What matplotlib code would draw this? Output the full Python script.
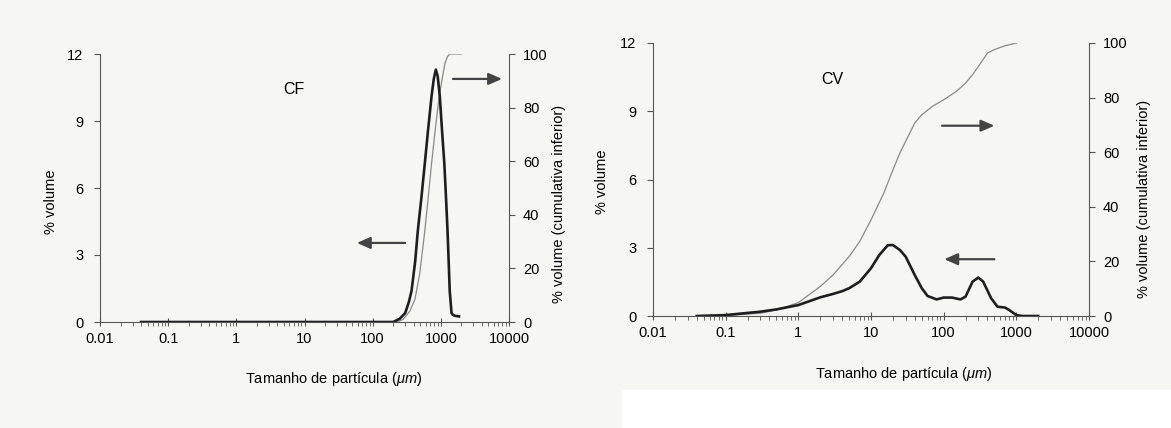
import matplotlib
matplotlib.use("Agg")
import matplotlib.pyplot as plt
import numpy as np
from matplotlib.ticker import FixedLocator, LogLocator, NullFormatter

plt.rcParams.update({
    "font.family": ["Liberation Sans", "DejaVu Sans"],
    "font.size": 10,
    "mathtext.fontset": "custom",
    "mathtext.it": "Liberation Sans:italic",
    "mathtext.rm": "Liberation Sans",
})

# CF - distribuição diferencial (% volume) e cumulativa
cf_size = [0.04, 200, 250, 300, 340, 372, 420, 460, 520, 582, 650, 730, 790, 845, 900, 966,
           1040, 1125, 1190, 1253, 1300, 1350, 1400, 1435, 1500, 1600, 1850]
cf_vol = [0, 0, 0.15, 0.4, 0.9, 1.4, 2.7, 4.1, 5.6, 7.1, 8.6, 10.1, 10.9, 11.3, 11.0, 10.1,
          8.6, 7.1, 5.6, 4.1, 2.8, 1.4, 0.8, 0.4, 0.32, 0.28, 0.25]
cf_cum_size = [0.04, 230, 280, 350, 417, 490, 582, 650, 730, 830, 944, 1050, 1150, 1250, 1350, 1600, 2000]
cf_cum = [0, 0, 1, 4, 8.5, 18, 34, 46, 59, 72, 84, 91, 96.6, 99, 100, 100, 100]

# CV
cv_size = [0.04, 0.1, 0.3, 0.5, 1, 2, 3, 4, 5, 7, 10, 13, 17, 20, 25, 30, 40, 50, 60, 80,
           100, 130, 170, 200, 250, 300, 350, 450, 550, 700, 800, 1000, 1200, 2000]
cv_vol = [0, 0.04, 0.19, 0.29, 0.48, 0.82, 0.97, 1.09, 1.22, 1.51, 2.10, 2.68, 3.11, 3.12, 2.9,
          2.61, 1.80, 1.22, 0.88, 0.73, 0.81, 0.81, 0.73, 0.85, 1.51, 1.69, 1.51, 0.78, 0.41,
          0.37, 0.26, 0.04, 0, 0]
cv_cum_size = [0.04, 0.1, 0.3, 0.5, 1, 2, 3, 5, 7, 10, 15, 20, 25, 30, 40, 50, 70, 100, 150,
               200, 250, 300, 400, 500, 700, 1000]
cv_cum = [0, 0.2, 1, 2.2, 4.9, 10.8, 15, 21.8, 27.3, 35.2, 45, 53.5, 59.7, 64, 70.7, 73.7,
          76.8, 79.2, 82.3, 85.3, 88.4, 91.4, 96.3, 97.6, 99, 100]

xticks = [0.01, 0.1, 1, 10, 100, 1000, 10000]
xticklabels = ["0.01", "0.1", "1", "10", "100", "1000", "10000"]
yticks_left = [0, 3, 6, 9, 12]
yticks_right = [0, 20, 40, 60, 80, 100]

bg = "#f6f6f3"
fig = plt.figure(figsize=(11.71, 4.28), dpi=100, facecolor=bg)
# zona branca do recorte no canto inferior direito
fig.patches.append(plt.Rectangle((622 / 1171, 0), 1 - 622 / 1171, 1 - 390 / 428,
                                 transform=fig.transFigure, color="white", zorder=0))


def painel(rect, size, vol, cum_size, cum, nome, nome_pos, seta_dir, seta_esq, lab):
    ax = fig.add_axes(rect)
    ax.set_facecolor("none")
    ax2 = ax.twinx()
    ax2.set_facecolor("none")

    ax2.plot(cum_size, cum, color="#8a8a8a", lw=0.9)
    ax.plot(size, vol, color="#1e1e1e", lw=1.9, zorder=5)
    ax.set_zorder(ax2.get_zorder() + 1)

    ax.set_xscale("log")
    ax.set_xlim(0.01, 10000)
    ax.set_ylim(0, 12)
    ax2.set_ylim(0, 100)

    ax.xaxis.set_major_locator(FixedLocator(xticks))
    ax.set_xticklabels(xticklabels)
    ax.xaxis.set_minor_locator(LogLocator(base=10, subs=np.arange(2, 10), numticks=20))
    ax.xaxis.set_minor_formatter(NullFormatter())
    ax.set_yticks(yticks_left)
    ax2.set_yticks(yticks_right)

    for a in (ax, ax2):
        a.spines["top"].set_visible(False)
        for s in a.spines.values():
            s.set_color("#555555")
            s.set_linewidth(0.8)
    ax.spines["right"].set_visible(False)
    ax2.spines["left"].set_visible(False)
    ax2.spines["bottom"].set_visible(False)

    ax.tick_params(axis="x", which="major", direction="inout", length=6, width=0.8,
                   color="#555555", labelsize=10.5, pad=4)
    ax.tick_params(axis="x", which="minor", direction="out", length=3, width=0.6, color="#555555")
    ax.tick_params(axis="y", direction="out", length=4, width=0.8, color="#555555",
                   labelsize=10.5, pad=8)
    ax2.tick_params(axis="y", direction="out", length=4, width=0.8, color="#555555",
                    labelsize=10.5, pad=6)

    ax.set_ylabel("% volume", fontsize=10.5)
    ax2.set_ylabel("% volume (cumulativa inferior)", fontsize=10.5)
    ax.set_xlabel(r"Tamanho de partícula ($\mu m$)", fontsize=10.5)
    ax.yaxis.set_label_coords(*lab[0])
    ax2.yaxis.set_label_coords(*lab[1])
    ax.xaxis.set_label_coords(*lab[2])

    ax.text(nome_pos[0], nome_pos[1], nome, transform=ax.transAxes, fontsize=11.5,
            ha="center", va="center")
    for (x0, x1, y) in (seta_dir, seta_esq):
        ax.annotate("", xy=(x1, y), xytext=(x0, y), xycoords="axes fraction",
                    textcoords="axes fraction",
                    arrowprops=dict(arrowstyle="-|>,head_length=0.8,head_width=0.35",
                                    color="#444444", lw=1.6, shrinkA=0, shrinkB=0))
    return ax, ax2


painel([100 / 1171, 1 - 322 / 428, 409 / 1171, 268 / 428],
       cf_size, cf_vol, cf_cum_size, cf_cum, "CF", (0.474, 0.866),
       (0.863, 0.983, 0.907), (0.746, 0.628, 0.295),
       ((-0.103, 0.45), (1.106, 0.44), (0.572, -0.18)))

painel([653 / 1171, 1 - 316 / 428, 436 / 1171, 273 / 428],
       cv_size, cv_vol, cv_cum_size, cv_cum, "CV", (0.412, 0.866),
       (0.663, 0.783, 0.697), (0.783, 0.668, 0.208),
       ((-0.1, 0.49), (1.111, 0.43), (0.576, -0.18)))

fig.savefig("out.png", dpi=100, facecolor=fig.get_facecolor())
